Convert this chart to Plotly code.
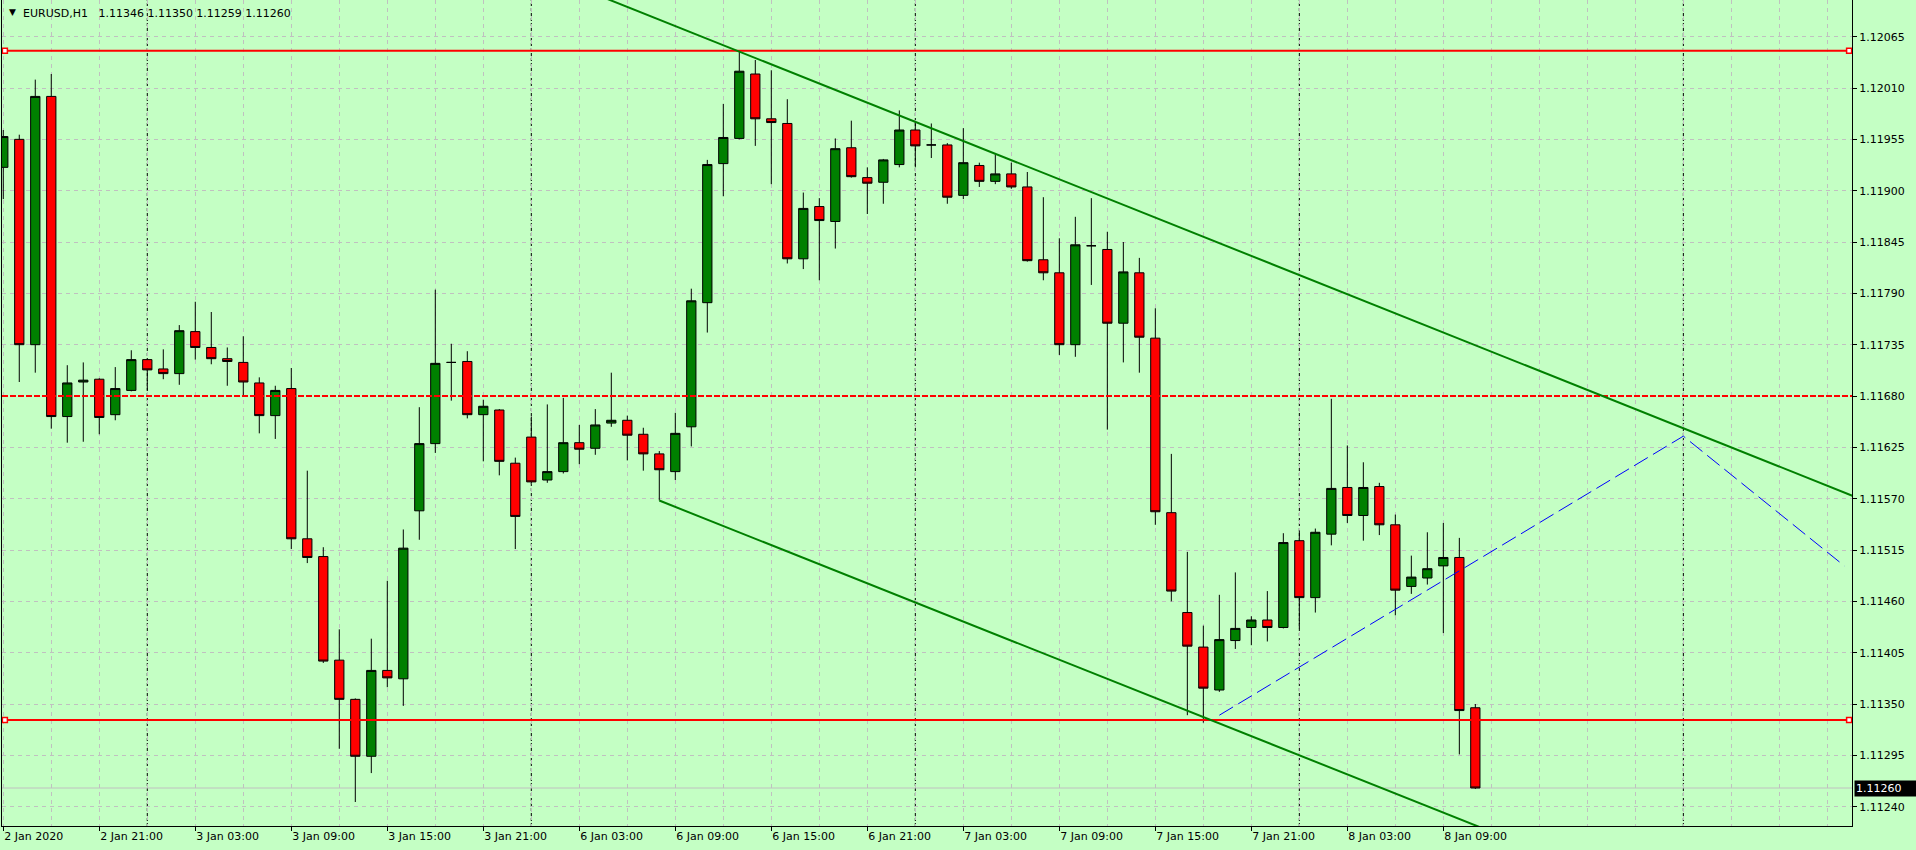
import plotly.graph_objects as go

# ---------------- data ----------------
bar_index = list(range(93))  # H1 bars, 2 Jan 15:00 .. 8 Jan 11:00 (no weekend gap)

opens = [1.11925, 1.11955, 1.11735, 1.12001, 1.11658, 1.11695, 1.11698, 1.11660, 1.11686, 1.11719,
         1.11709, 1.11704, 1.11749, 1.11732, 1.11720, 1.11716, 1.11694, 1.11659, 1.11688, 1.11527,
         1.11508, 1.11397, 1.11355, 1.11294, 1.11386, 1.11377, 1.11557, 1.11629, 1.11716, 1.11717,
         1.11660, 1.11665, 1.11608, 1.11636, 1.11590, 1.11599, 1.11630, 1.11624, 1.11651, 1.11654,
         1.11639, 1.11618, 1.11599, 1.11647, 1.11780, 1.11929, 1.11956, 1.12025, 1.11977, 1.11972,
         1.11827, 1.11883, 1.11867, 1.11946, 1.11914, 1.11909, 1.11928, 1.11965, 1.11949, 1.11949,
         1.11895, 1.11927, 1.11910, 1.11918, 1.11904, 1.11826, 1.11812, 1.11735, 1.11841, 1.11837,
         1.11758, 1.11812, 1.11742, 1.11555, 1.11448, 1.11411, 1.11365, 1.11418, 1.11432, 1.11440,
         1.11432, 1.11525, 1.11464, 1.11532, 1.11582, 1.11552, 1.11583, 1.11542, 1.11476, 1.11485,
         1.11498, 1.11507, 1.11346]
highs = [1.11965, 1.11960, 1.12019, 1.12025, 1.11713, 1.11716, 1.11699, 1.11711, 1.11729, 1.11720,
         1.11730, 1.11756, 1.11781, 1.11770, 1.11732, 1.11744, 1.11700, 1.11691, 1.11710, 1.11600,
         1.11518, 1.11430, 1.11356, 1.11420, 1.11482, 1.11537, 1.11668, 1.11794, 1.11736, 1.11728,
         1.11676, 1.11666, 1.11614, 1.11658, 1.11671, 1.11678, 1.11649, 1.11666, 1.11705, 1.11659,
         1.11646, 1.11621, 1.11662, 1.11795, 1.11933, 1.11993, 1.12049, 1.12040, 1.12029, 1.11998,
         1.11898, 1.11892, 1.11956, 1.11975, 1.11925, 1.11934, 1.11986, 1.11974, 1.11972, 1.11951,
         1.11967, 1.11930, 1.11939, 1.11930, 1.11920, 1.11893, 1.11849, 1.11872, 1.11892, 1.11856,
         1.11845, 1.11828, 1.11774, 1.11618, 1.11513, 1.11434, 1.11467, 1.11491, 1.11444, 1.11471,
         1.11533, 1.11536, 1.11538, 1.11677, 1.11627, 1.11609, 1.11587, 1.11553, 1.11509, 1.11534,
         1.11544, 1.11528, 1.11350]
lows = [1.11891, 1.11695, 1.11705, 1.11645, 1.11630, 1.11631, 1.11639, 1.11654, 1.11685, 1.11686,
        1.11698, 1.11692, 1.11719, 1.11714, 1.11691, 1.11680, 1.11640, 1.11634, 1.11516, 1.11501,
        1.11394, 1.11302, 1.11245, 1.11276, 1.11368, 1.11348, 1.11526, 1.11619, 1.11675, 1.11656,
        1.11610, 1.11595, 1.11516, 1.11586, 1.11587, 1.11597, 1.11607, 1.11617, 1.11647, 1.11611,
        1.11600, 1.11568, 1.11590, 1.11626, 1.11748, 1.11894, 1.11955, 1.11948, 1.11907, 1.11822,
        1.11816, 1.11804, 1.11838, 1.11914, 1.11875, 1.11886, 1.11925, 1.11925, 1.11935, 1.11886,
        1.11891, 1.11904, 1.11907, 1.11902, 1.11824, 1.11804, 1.11724, 1.11722, 1.11799, 1.11644,
        1.11716, 1.11705, 1.11542, 1.11460, 1.11338, 1.11330, 1.11363, 1.11409, 1.11413, 1.11417,
        1.11431, 1.11431, 1.11448, 1.11520, 1.11544, 1.11525, 1.11531, 1.11445, 1.11468, 1.11478,
        1.11426, 1.11296, 1.11259]
closes = [1.11958, 1.11735, 1.12001, 1.11658, 1.11694, 1.11697, 1.11657, 1.11688, 1.11719, 1.11708,
          1.11704, 1.11750, 1.11732, 1.11720, 1.11717, 1.11695, 1.11659, 1.11686, 1.11527, 1.11507,
          1.11396, 1.11355, 1.11294, 1.11386, 1.11378, 1.11517, 1.11629, 1.11715, 1.11716, 1.11660,
          1.11669, 1.11610, 1.11551, 1.11588, 1.11599, 1.11630, 1.11623, 1.11649, 1.11654, 1.11638,
          1.11618, 1.11601, 1.11640, 1.11782, 1.11928, 1.11957, 1.12028, 1.11977, 1.11973, 1.11827,
          1.11881, 1.11868, 1.11945, 1.11915, 1.11908, 1.11933, 1.11965, 1.11948, 1.11949, 1.11893,
          1.11930, 1.11910, 1.11918, 1.11904, 1.11825, 1.11812, 1.11735, 1.11842, 1.11841, 1.11758,
          1.11813, 1.11743, 1.11556, 1.11471, 1.11412, 1.11367, 1.11419, 1.11431, 1.11440, 1.11432,
          1.11523, 1.11464, 1.11534, 1.11581, 1.11552, 1.11582, 1.11542, 1.11472, 1.11486, 1.11495,
          1.11507, 1.11343, 1.11260]

time_tick_index = [0, 6, 12, 18, 24, 30, 36, 42, 48, 54, 60, 66, 72, 78, 84, 90]
time_tick_labels = ["2 Jan 2020", "2 Jan 21:00", "3 Jan 03:00", "3 Jan 09:00", "3 Jan 15:00",
                    "3 Jan 21:00", "6 Jan 03:00", "6 Jan 09:00", "6 Jan 15:00", "6 Jan 21:00",
                    "7 Jan 03:00", "7 Jan 09:00", "7 Jan 15:00", "7 Jan 21:00", "8 Jan 03:00",
                    "8 Jan 09:00"]
grid_step_bars = 3
last_grid_index = 114
day_separator_index = [9, 33, 57, 81, 105]

price_tick_labels = ["1.12065", "1.12010", "1.11955", "1.11900", "1.11845", "1.11790", "1.11735",
                     "1.11680", "1.11625", "1.11570", "1.11515", "1.11460", "1.11405", "1.11350",
                     "1.11295", "1.11240"]

resistance_level = 1.12050
support_level = 1.11333
pivot_level = 1.11680
bid_price = 1.11260

upper_channel_index = [46, 99.8]
upper_channel_price = [1.12049, 1.11681]
lower_channel_index = [41, 92]
lower_channel_price = [1.11568, 1.11220]
projection_index = [76, 105, 115.06]
projection_price = [1.11338, 1.11637, 1.11498]

symbol_label = "EURUSD,H1"

# ---------------- styling ----------------
BG = "#C4FFC4"
GRID = "#C0C0C0"
FONT = "DejaVu Sans, Verdana, sans-serif"
x_range = [-0.08, 115.54]
y_range = [1.112193, 1.121043]

price_ticks = [float(t) for t in price_tick_labels]
grid_all = list(range(0, last_grid_index + 1, grid_step_bars))
minor_grid = [g for g in grid_all if g not in time_tick_index]


def line_through(ix, py, x_from, x_to):
    slope = (py[1] - py[0]) / (ix[1] - ix[0])
    return [x_from, x_to], [py[0] + slope * (x_from - ix[0]), py[0] + slope * (x_to - ix[0])]


fig = go.Figure()

fig.add_trace(go.Candlestick(
    x=bar_index, open=opens, high=highs, low=lows, close=closes,
    increasing=dict(fillcolor="#008000", line=dict(color="black", width=1)),
    decreasing=dict(fillcolor="#FF0000", line=dict(color="black", width=1)),
    whiskerwidth=0, hoverinfo="skip", showlegend=False))

# horizontal levels
for lvl, dash in [(resistance_level, "solid"), (support_level, "solid"), (pivot_level, "6px,2px")]:
    fig.add_trace(go.Scatter(x=x_range, y=[lvl, lvl], mode="lines",
                             line=dict(color="#FF0000", width=2, dash=dash),
                             hoverinfo="skip", showlegend=False))

# channel lines
ux, uy = line_through(upper_channel_index, upper_channel_price, 36, 117)
fig.add_trace(go.Scatter(x=ux, y=uy, mode="lines", line=dict(color="#008000", width=2),
                         hoverinfo="skip", showlegend=False))
lx, ly = line_through(lower_channel_index, lower_channel_price, lower_channel_index[0], 117)
fig.add_trace(go.Scatter(x=lx, y=ly, mode="lines", line=dict(color="#008000", width=2),
                         hoverinfo="skip", showlegend=False))

# projection (blue dashed)
fig.add_trace(go.Scatter(x=projection_index, y=projection_price, mode="lines",
                         line=dict(color="#0000FF", width=1, dash="16px,6px"),
                         hoverinfo="skip", showlegend=False))

# anchor squares of the selected horizontal lines
for lvl in (resistance_level, support_level):
    fig.add_trace(go.Scatter(x=[x_range[0] + 0.18, x_range[1] - 0.18], y=[lvl, lvl], mode="markers",
                             marker=dict(symbol="square", size=5, color="white",
                                         line=dict(color="#FF0000", width=1.5)),
                             cliponaxis=False, hoverinfo="skip", showlegend=False))

shapes = []
for d in day_separator_index:
    shapes.append(dict(type="line", xref="x", yref="paper", x0=d, x1=d, y0=0, y1=1,
                       line=dict(color="black", width=1, dash="3px,2px"), layer="between"))
shapes.append(dict(type="line", xref="paper", yref="y", x0=0, x1=1, y0=bid_price, y1=bid_price,
                   line=dict(color="#C0C0C0", width=1), layer="between"))

last = len(closes) - 1
ohlc_text = "%.5f %.5f %.5f %.5f" % (opens[last], highs[last], lows[last], closes[last])

annotations = [
    dict(xref="paper", yref="paper", x=0, y=1, xanchor="left", yanchor="middle", xshift=5, yshift=-12,
         text="▼", showarrow=False, font=dict(family=FONT, size=9, color="black")),
    dict(xref="paper", yref="paper", x=0, y=1, xanchor="left", yanchor="middle", xshift=19, yshift=-13,
         text=symbol_label + "\u00a0\u00a0\u00a0" + ohlc_text, showarrow=False,
         font=dict(family=FONT, size=11, color="black")),
    dict(xref="paper", yref="y", x=1, y=bid_price, xanchor="left", yanchor="middle", xshift=2,
         text="%.5f" % bid_price, showarrow=False, bgcolor="black", borderpad=1,
         width=60, align="left",
         font=dict(family=FONT, size=11, color="white")),
]

fig.update_layout(
    width=1916, height=850, autosize=False,
    margin=dict(l=2, r=64, t=0, b=24, pad=0),
    paper_bgcolor=BG, plot_bgcolor=BG,
    showlegend=False, hovermode=False, boxgap=0.42, boxgroupgap=0,
    font=dict(family=FONT, size=11, color="black"),
    shapes=shapes, annotations=annotations,
    xaxis=dict(range=x_range, tickmode="array", tickvals=time_tick_index, ticktext=time_tick_labels,
               ticks="outside", ticklen=4, tickcolor="black", ticklabelposition="outside right",
               showgrid=True, gridcolor=GRID, griddash="4px,4px", gridwidth=1,
               minor=dict(tickmode="array", tickvals=minor_grid, showgrid=True, gridcolor=GRID,
                          griddash="4px,4px", ticks=""),
               showline=True, linecolor="black", linewidth=1, mirror=False, zeroline=False,
               rangeslider=dict(visible=False), fixedrange=True,
               tickfont=dict(family=FONT, size=11, color="black")),
    yaxis=dict(range=y_range, side="right", tickmode="array", tickvals=price_ticks,
               ticktext=price_tick_labels, ticks="outside", ticklen=4, tickcolor="black",
               showgrid=True, gridcolor=GRID, griddash="4px,4px", gridwidth=1,
               showline=True, linecolor="black", linewidth=1, mirror=True, zeroline=False,
               fixedrange=True, tickfont=dict(family=FONT, size=11, color="black")),
)

fig.write_html("out.html", config={"displayModeBar": False},
               post_script="document.body.style.margin='0';document.body.style.overflow='hidden';")
